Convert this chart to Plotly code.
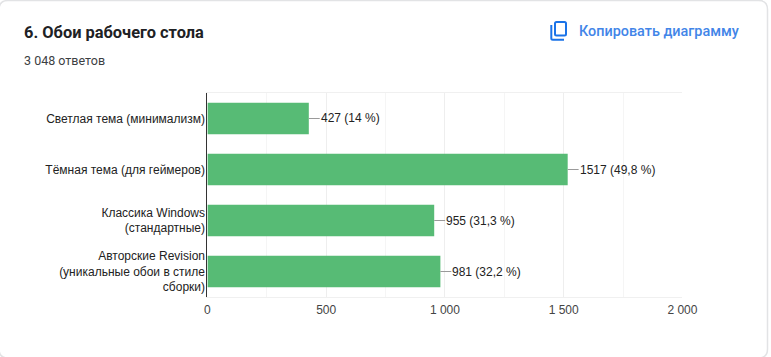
import plotly.graph_objects as go

categories = [
    "Светлая тема (минимализм)",
    "Тёмная тема (для геймеров)",
    "Классика Windows<br>(стандартные)",
    "Авторские Revision<br>(уникальные обои в стиле<br>сборки)",
]
values = [427, 1517, 955, 981]
value_labels = ["427 (14 %)", "1517 (49,8 %)", "955 (31,3 %)", "981 (32,2 %)"]
x_ticks = [0, 500, 1000, 1500, 2000]
x_tick_labels = ["0", "500", "1 000", "1 500", "2 000"]
leader_lengths = [46, 46, 46, 46]

W, H = 771, 357
px = lambda v: v / W
py = lambda v: 1 - v / H

LABEL = "Liberation Sans, Arial, sans-serif"
UI = "Roboto, sans-serif"

fig = go.Figure(
    go.Bar(
        x=values,
        y=categories,
        orientation="h",
        width=0.62,
        marker=dict(color="#57BB75", line=dict(width=0)),
        error_x=dict(
            type="data", symmetric=False, array=leader_lengths,
            arrayminus=[0, 0, 0, 0], width=0, color="#9a9a9a", thickness=1,
        ),
        hoverinfo="skip",
    )
)

annotations = [
    dict(x=v, y=c, text=t, xref="x", yref="y", showarrow=False, xanchor="left",
         xshift=10, font=dict(family=LABEL, size=12, color="#222222"))
    for v, c, t in zip(values, categories, value_labels)
]
annotations += [
    dict(x=px(22), y=py(32), xref="paper", yref="paper", text="6. Обои рабочего стола",
         showarrow=False, xanchor="left", yanchor="middle",
         font=dict(family=UI, size=16.4, color="#202124", weight=700)),
    dict(x=px(22), y=py(60.5), xref="paper", yref="paper", text="3 048 ответов",
         showarrow=False, xanchor="left", yanchor="middle",
         font=dict(family=UI, size=12.5, color="#3c4043")),
    dict(x=px(577), y=py(31.5), xref="paper", yref="paper", text="Копировать диаграмму",
         showarrow=False, xanchor="left", yanchor="middle",
         font=dict(family=UI, size=14.4, color="#4285e8", weight=500)),
]

def card_path():
    l, t, r, b, c = -1, 0.5, 767.5, 358, 9
    return (f"M {px(l)} {py(t+c)} Q {px(l)} {py(t)} {px(l+c)} {py(t)} "
            f"L {px(r-c)} {py(t)} Q {px(r)} {py(t)} {px(r)} {py(t+c)} "
            f"L {px(r)} {py(b-c)} Q {px(r)} {py(b)} {px(r-c)} {py(b)} "
            f"L {px(l+c)} {py(b)} Q {px(l)} {py(b)} {px(l)} {py(b-c)} Z")

def icon_front_path():
    l, t, r, b, c = 555, 22, 566, 35.5, 1.5
    return (f"M {px(l+c)} {py(t)} L {px(r-c)} {py(t)} Q {px(r)} {py(t)} {px(r)} {py(t+c)} "
            f"L {px(r)} {py(b-c)} Q {px(r)} {py(b)} {px(r-c)} {py(b)} "
            f"L {px(l+c)} {py(b)} Q {px(l)} {py(b)} {px(l)} {py(b-c)} "
            f"L {px(l)} {py(t+c)} Q {px(l)} {py(t)} {px(l+c)} {py(t)} Z")

def icon_back_path():
    return (f"M {px(551.3)} {py(25)} L {px(551.3)} {py(38.3)} "
            f"Q {px(551.3)} {py(39.8)} {px(552.8)} {py(39.8)} L {px(564)} {py(39.8)}")

shapes = [
    dict(type="path", xref="paper", yref="paper", path=card_path(),
         line=dict(color="#e2e3e5", width=1.5), fillcolor="rgba(0,0,0,0)", layer="below"),
    dict(type="path", xref="paper", yref="paper", path=icon_front_path(),
         line=dict(color="#1a73e8", width=2), fillcolor="rgba(0,0,0,0)"),
    dict(type="path", xref="paper", yref="paper", path=icon_back_path(),
         line=dict(color="#1a73e8", width=2)),
]

fig.update_layout(
    width=W, height=H,
    margin=dict(l=0, r=0, t=0, b=0, autoexpand=False),
    paper_bgcolor="white",
    plot_bgcolor="white",
    showlegend=False,
    annotations=annotations,
    shapes=shapes,
    xaxis=dict(
        domain=[px(207.4), px(682.4)],
        range=[0, 2000],
        tickvals=x_ticks,
        ticktext=x_tick_labels,
        ticks="",
        showgrid=True,
        gridcolor="#eeeeee",
        gridwidth=1,
        zeroline=False,
        showline=True,
        linecolor="#f0f0f0",
        linewidth=1,
        mirror=True,
        minor=dict(tickvals=[250, 750, 1250, 1750], showgrid=True, gridcolor="#f5f5f5", gridwidth=1),
        tickfont=dict(family=LABEL, size=12, color="#444444"),
        ticklabelstandoff=2,
    ),
    yaxis=dict(
        domain=[py(297), py(93)],
        type="category",
        categoryorder="array",
        categoryarray=categories,
        range=[3.5, -0.5],
        ticks="",
        showgrid=False,
        zeroline=False,
        showline=True,
        linecolor="#333333",
        linewidth=1,
        tickfont=dict(family=LABEL, size=12, color="#222222"),
        ticklabelstandoff=-1,
    ),
)

fig.write_html(
    "out.html",
    config=dict(displayModeBar=False),
    post_script="document.body.style.margin='0';document.body.style.overflow='hidden';",
)
